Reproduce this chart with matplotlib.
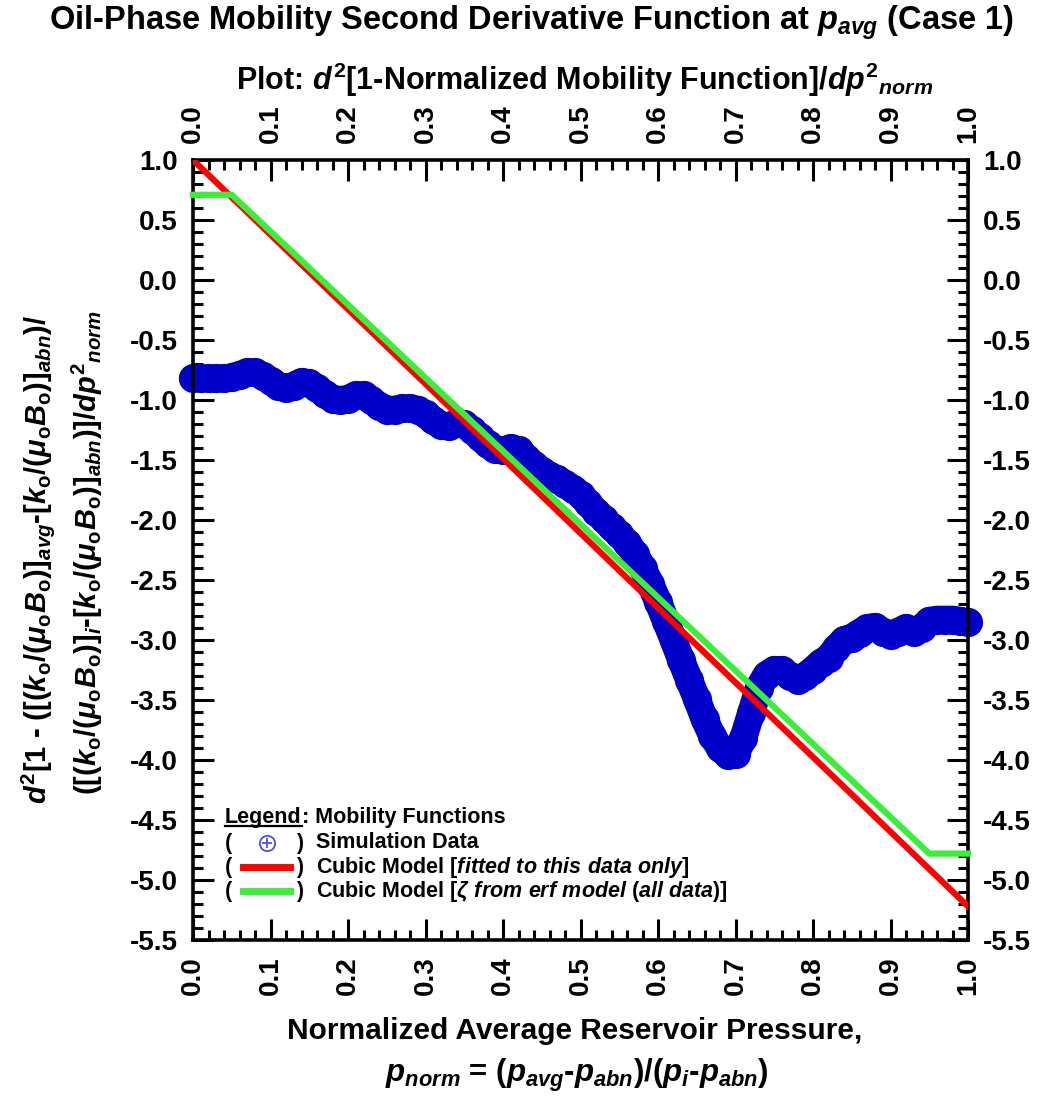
import matplotlib
matplotlib.use("Agg")
import matplotlib.pyplot as plt
from matplotlib.lines import Line2D
from matplotlib.ticker import MultipleLocator, FormatStrFormatter
from matplotlib import font_manager

# ---- simulation data: second derivative of (1 - normalized mobility) ----
p_sim = [0.00, 0.01, 0.02, 0.03, 0.04, 0.05, 0.06, 0.07, 0.08, 0.09,
         0.10, 0.11, 0.12, 0.13, 0.14, 0.15, 0.16, 0.17, 0.18, 0.19,
         0.20, 0.21, 0.22, 0.23, 0.24, 0.25, 0.26, 0.27, 0.28, 0.29,
         0.30, 0.31, 0.32, 0.33, 0.34, 0.35, 0.36, 0.37, 0.38, 0.39,
         0.40, 0.41, 0.42, 0.43, 0.44, 0.45, 0.46, 0.47, 0.48, 0.49,
         0.50, 0.51, 0.52, 0.53, 0.54, 0.55, 0.56, 0.57, 0.58, 0.59,
         0.60, 0.61, 0.62, 0.63, 0.64, 0.65, 0.66, 0.67, 0.68, 0.69,
         0.70, 0.71, 0.72, 0.73, 0.74, 0.75, 0.76, 0.77, 0.78, 0.79,
         0.80, 0.81, 0.82, 0.83, 0.84, 0.85, 0.86, 0.87, 0.88, 0.89,
         0.90, 0.91, 0.92, 0.93, 0.94, 0.95, 0.96, 0.97, 0.98, 0.99,
         1.00]
d2_sim = [-0.82, -0.82, -0.82, -0.82, -0.82, -0.81, -0.79, -0.77, -0.77, -0.80,
          -0.84, -0.88, -0.90, -0.88, -0.85, -0.86, -0.90, -0.95, -0.99, -1.00,
          -0.99, -0.96, -0.96, -1.00, -1.05, -1.08, -1.08, -1.07, -1.07, -1.08,
          -1.12, -1.17, -1.21, -1.22, -1.19, -1.20, -1.25, -1.31, -1.37, -1.41,
          -1.42, -1.40, -1.42, -1.48, -1.54, -1.59, -1.63, -1.66, -1.70, -1.74,
          -1.79, -1.86, -1.93, -1.99, -2.06, -2.12, -2.19, -2.28, -2.40, -2.53,
          -2.68, -2.84, -3.00, -3.17, -3.33, -3.49, -3.66, -3.80, -3.90, -3.96,
          -3.95, -3.82, -3.61, -3.40, -3.29, -3.25, -3.25, -3.30, -3.33, -3.30,
          -3.25, -3.19, -3.15, -3.07, -3.00, -2.98, -2.94, -2.90, -2.89, -2.93,
          -2.96, -2.93, -2.90, -2.93, -2.90, -2.84, -2.83, -2.83, -2.83, -2.84,
          -2.85]

# ---- cubic model fitted to this data only ----
p_fit = [0.0, 1.0]
d2_fit = [1.00, -5.22]

# ---- cubic model with zeta from the erf model (all data), bounded ----
p_erf = [0.0, 0.05, 0.95, 1.0]
d2_erf = [0.71, 0.71, -4.78, -4.78]

x_ticks = [0.0, 0.1, 0.2, 0.3, 0.4, 0.5, 0.6, 0.7, 0.8, 0.9, 1.0]
y_ticks = [1.0, 0.5, 0.0, -0.5, -1.0, -1.5, -2.0, -2.5, -3.0, -3.5, -4.0, -4.5, -5.0, -5.5]

BLUE = '#0000C8'
RED = '#FF0000'
GREEN = '#3CEE3C'

names = {f.name for f in font_manager.fontManager.ttflist}
BASE = 'Liberation Sans'
NARROW = 'Liberation Sans Narrow' if 'Liberation Sans Narrow' in names else BASE

plt.rcParams.update({
    'font.family': BASE,
    'font.weight': 'bold',
    'axes.unicode_minus': False,
    'mathtext.fontset': 'custom',
    'mathtext.rm': 'Liberation Sans:bold',
    'mathtext.it': 'Liberation Sans:bold:italic',
    'mathtext.bf': 'Liberation Sans:bold',
    'mathtext.sf': 'Liberation Sans:bold',
    'mathtext.default': 'it',
})

W, H = 1039, 1099
fig = plt.figure(figsize=(W / 100, H / 100), dpi=100)
L, R, T, B = 193, 968, 160, 940
ax = fig.add_axes([L / W, 1 - B / H, (R - L) / W, (B - T) / H])


def fx(px):
    return px / W


def fy(py):
    return 1 - py / H


# simulation data as a dense band of circle markers
ax.plot(p_sim, d2_sim, '-', color=BLUE, lw=20, solid_capstyle='round',
        solid_joinstyle='round', clip_on=False, zorder=2)
ax.plot(p_sim, d2_sim, 'o', ms=20, mfc=BLUE, mec=BLUE, clip_on=False, zorder=2)

ax.plot(p_fit, d2_fit, '-', color=RED, lw=4.5, zorder=3)
ax.plot(p_erf, d2_erf, '-', color=GREEN, lw=4.5, zorder=4, clip_on=False)

ax.set_xlim(0, 1)
ax.set_ylim(-5.5, 1.0)
ax.set_xticks(x_ticks)
ax.set_yticks(y_ticks)
ax.xaxis.set_minor_locator(MultipleLocator(0.02))
ax.yaxis.set_minor_locator(MultipleLocator(0.1))
ax.xaxis.set_major_formatter(FormatStrFormatter('%.1f'))
ax.yaxis.set_major_formatter(FormatStrFormatter('%.1f'))
ax.tick_params(which='both', direction='in', top=True, right=True,
               labeltop=True, labelright=True, width=2.2, labelsize=20)
ax.tick_params(which='major', length=15)
ax.tick_params(which='minor', length=7.5)
ax.tick_params(axis='x', labelrotation=90, pad=12)
ax.tick_params(axis='y', pad=11)
for lab in ax.get_xticklabels() + ax.get_yticklabels():
    lab.set_fontweight('bold')
for sp in ax.spines.values():
    sp.set_linewidth(2.6)

# titles
fig.text(fx(532), fy(23),
         r'Oil-Phase Mobility Second Derivative Function at $p_{avg}$ (Case 1)',
         ha='center', va='center', fontsize=23.5, family=NARROW, weight='bold')
fig.text(fx(585), fy(80),
         r'Plot: $d^{2}$[1-Normalized Mobility Function]/$dp^{2}{}_{norm}$',
         ha='center', va='center', fontsize=22, family=NARROW, weight='bold')

# x-axis title
fig.text(fx(575), fy(1031), 'Normalized Average Reservoir Pressure,',
         ha='center', va='center', fontsize=21.5, family=NARROW, weight='bold')
fig.text(fx(577), fy(1075),
         r'$p_{norm}$ = ($p_{avg}$-$p_{abn}$)/($p_{i}$-$p_{abn}$)',
         ha='center', va='center', fontsize=22.5, family=NARROW, weight='bold')

# y-axis title (two lines)
ko = r'$k_\mathrm{o}$'
muB = r'$\mu_\mathrm{o}B_\mathrm{o}$'
ylab1 = (r'$d^{2}$[1 - ([(' + ko + '/(' + muB + r')]$_{avg}$-[' + ko + '/('
         + muB + r')]$_{abn}$)/')
ylab2 = ('([(' + ko + '/(' + muB + r')]$_{i}$-[' + ko + '/(' + muB
         + r')]$_{abn}$)]/$dp^{2}{}_{norm}$')
fig.text(fx(38), fy(560), ylab1, rotation=90, ha='center', va='center',
         fontsize=21, weight='bold')
fig.text(fx(87), fy(553), ylab2, rotation=90, ha='center', va='center',
         fontsize=21, weight='bold')

# legend block
LFS = 15.5
leg_head = fig.text(fx(225), fy(818), 'Legend', ha='left', va='baseline',
                    fontsize=LFS, weight='bold')
fig.canvas.draw()
bb = leg_head.get_window_extent()
x0, x1 = bb.x0 / W, bb.x1 / W
leg_head.set_va('center')
fig.canvas.draw()
bb2 = leg_head.get_window_extent()
base_y = fy(818) - (bb.y0 - bb2.y0) / H  # baseline when centred
fig.text(x1, fy(818), ': Mobility Functions', ha='left', va='center',
         fontsize=LFS, weight='bold')
fig.add_artist(Line2D([x0, x1], [base_y - 2.5 / H] * 2, color='black', lw=1.6,
                      transform=fig.transFigure))

rows = [(843, 'Simulation Data'),
        (867, r'Cubic Model [$\mathit{fitted\ to\ this\ data\ only}$]'),
        (891, r'Cubic Model [$\zeta\ \mathit{from\ erf\ model}$ ($\mathit{all\ data}$)]')]
for yy, txt in rows:
    fig.text(fx(225), fy(yy), '(', ha='left', va='center', fontsize=LFS, weight='bold')
    fig.text(fx(296), fy(yy), ')', ha='left', va='center', fontsize=LFS, weight='bold')
    fig.text(fx(316), fy(yy), txt, ha='left', va='center', fontsize=LFS, weight='bold')

fig.add_artist(Line2D([fx(267)], [fy(843)], marker='o', ms=11, mfc='none',
                      mec='#5050D8', mew=1.3, transform=fig.transFigure))
fig.add_artist(Line2D([fx(267)], [fy(843)], marker='+', ms=6.5,
                      mec='#5050D8', mew=1.3, transform=fig.transFigure))
fig.add_artist(Line2D([fx(243), fx(290)], [fy(867)] * 2, color=RED, lw=5,
                      transform=fig.transFigure))
fig.add_artist(Line2D([fx(243), fx(290)], [fy(891)] * 2, color=GREEN, lw=5,
                      transform=fig.transFigure))

fig.savefig('out.png', dpi=100)
